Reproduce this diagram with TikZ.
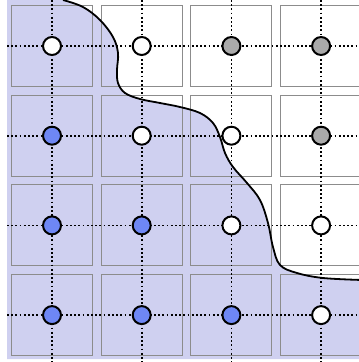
\documentclass[tikz,border=0pt]{standalone}
\definecolor{lav}{RGB}{207,208,240}
\definecolor{bluedot}{RGB}{110,135,245}
\definecolor{graydot}{RGB}{170,170,170}
\definecolor{sqgray}{RGB}{140,140,140}
\tikzset{
  cell/.style={draw=sqgray, line width=1pt},
  grid dots/.style={line width=1.7pt, dash pattern=on 1.7pt off 2.5pt},
  site/.style={circle, draw=black, line width=2pt, minimum size=18pt, inner sep=0pt},
  wsite/.style={site, fill=white},
  bsite/.style={site, fill=bluedot},
  gsite/.style={site, fill=graydot},
  front/.style={line width=1.8pt}
}
\begin{document}
\begin{tikzpicture}[x=1pt,y=-1pt]
\useasboundingbox (0,0) rectangle (359,362);
\clip (0,0) rectangle (359,362);
\def\pitch{89.7}
% shaded region
\fill[lav] (7,0) -- plot[smooth, tension=0.6] coordinates {(63,0) (83,7) (100,20) (113,37) (118,53) (117,70) (118,83) (125,93) (140,99) (160,103) (180,107) (200,113) (213,123) (220,137) (225,153) (233,167) (247,183) (260,200) (268,223) (273,247) (280,265) (297,273) (323,278) (359,280)} -- (362,280) -- (362,359) -- (7,359) -- cycle;
% squares
\foreach \i in {0,1,2,3}{
  \foreach \j in {0,1,2,3}{
    \draw[cell] ({52+\pitch*\i-40.5},{46+\pitch*\j-40.5}) rectangle ++(81,81);
  }
}
% dotted lines
\foreach \i in {0,1,2,3}{
  \draw[grid dots] ({52+\pitch*\i},0) -- ({52+\pitch*\i},362);
  \draw[grid dots] (7,{46+\pitch*\i}) -- (362,{46+\pitch*\i});
}
% front curve
\draw[front] plot[smooth, tension=0.6] coordinates {(63,0) (83,7) (100,20) (113,37) (118,53) (117,70) (118,83) (125,93) (140,99) (160,103) (180,107) (200,113) (213,123) (220,137) (225,153) (233,167) (247,183) (260,200) (268,223) (273,247) (280,265) (297,273) (323,278) (362,280)};
% sites
\node[wsite] (s00) at (52,46) {};
\node[wsite] (s10) at ({52+\pitch},46) {};
\node[gsite] (s20) at ({52+2*\pitch},46) {};
\node[gsite] (s30) at ({52+3*\pitch},46) {};
\node[bsite] (s01) at (52,{46+\pitch}) {};
\node[wsite] (s11) at ({52+\pitch},{46+\pitch}) {};
\node[wsite] (s21) at ({52+2*\pitch},{46+\pitch}) {};
\node[gsite] (s31) at ({52+3*\pitch},{46+\pitch}) {};
\node[bsite] (s02) at (52,{46+2*\pitch}) {};
\node[bsite] (s12) at ({52+\pitch},{46+2*\pitch}) {};
\node[wsite] (s22) at ({52+2*\pitch},{46+2*\pitch}) {};
\node[wsite] (s32) at ({52+3*\pitch},{46+2*\pitch}) {};
\node[bsite] (s03) at (52,{46+3*\pitch}) {};
\node[bsite] (s13) at ({52+\pitch},{46+3*\pitch}) {};
\node[bsite] (s23) at ({52+2*\pitch},{46+3*\pitch}) {};
\node[wsite] (s33) at ({52+3*\pitch},{46+3*\pitch}) {};
\end{tikzpicture}
\end{document}
